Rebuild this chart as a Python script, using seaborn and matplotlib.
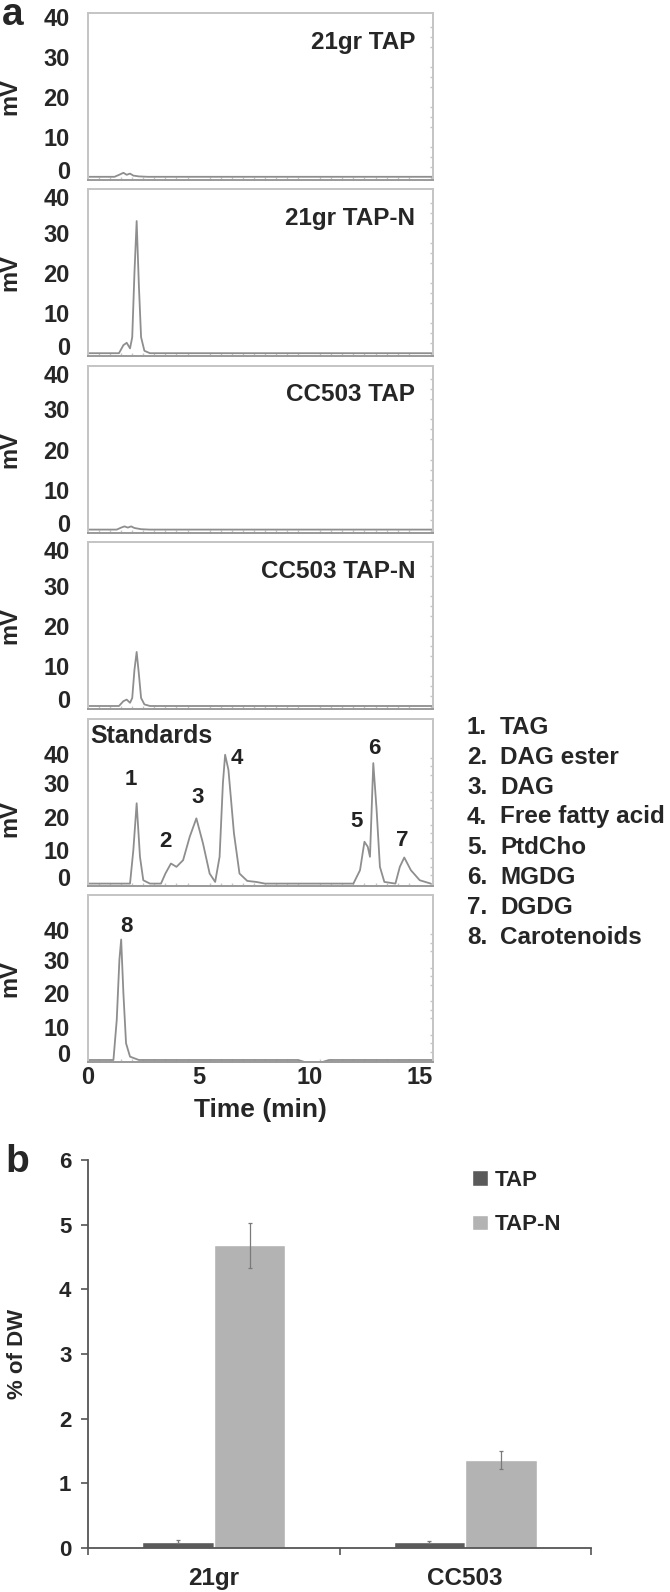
"""
plot.py - HPLC chromatograms (a) and TAG content bar chart (b)
"""

import numpy as np
import pandas as pd
import matplotlib
matplotlib.use("Agg")
import matplotlib.pyplot as plt
import matplotlib.transforms as mtransforms
import seaborn as sns


# ── Data ──────────────────────────────────────────────────────────────────────

# (a) traces: retention time (min) and detector signal (mV)
t_21gr_tap = [0, 1.2, 1.45, 1.6, 1.75, 1.9, 2.05, 2.3, 2.7, 15.6]
mv_21gr_tap = [0, 0, 0.6, 1.0, 0.5, 0.8, 0.3, 0.1, 0, 0]

t_21gr_tapn = [0, 1.4, 1.6, 1.75, 1.9, 2.0, 2.1, 2.2, 2.3, 2.4, 2.55, 2.8, 15.6]
mv_21gr_tapn = [0, 0, 2.0, 2.6, 1.2, 4.0, 20.0, 33.0, 17.0, 4.0, 0.6, 0, 0]

t_cc503_tap = [0, 1.3, 1.5, 1.65, 1.8, 1.95, 2.1, 2.4, 2.8, 15.6]
mv_cc503_tap = [0, 0, 0.5, 0.8, 0.5, 0.8, 0.4, 0.1, 0, 0]

t_cc503_tapn = [0, 1.4, 1.6, 1.75, 1.9, 2.0, 2.1, 2.2, 2.3, 2.4, 2.55, 2.8, 15.6]
mv_cc503_tapn = [0, 0, 1.2, 1.6, 0.8, 2.0, 9.0, 13.5, 8.0, 2.0, 0.4, 0, 0]

t_std = [0, 1.9, 2.05, 2.2, 2.35, 2.5, 2.8, 3.3, 3.5, 3.75, 4.0, 4.3, 4.6,
         4.9, 5.2, 5.5, 5.75, 5.95, 6.1, 6.2, 6.35, 6.6, 6.85, 7.2, 7.6,
         8.0, 12.0, 12.3, 12.5, 12.65, 12.75, 12.9, 13.05, 13.2, 13.4, 13.9,
         14.1, 14.3, 14.6, 15.0, 15.5]
mv_std = [0, 0, 10, 24, 8, 1, 0, 0, 3, 6, 5, 7, 14,
          19.5, 12, 3, 0.5, 8, 30, 38.5, 34, 15, 3, 0.8, 0.5,
          0, 0, 4, 12.5, 11, 8, 36, 22, 5, 0.5, 0,
          5, 7.8, 4, 1, 0]

t_carot = [0, 1.15, 1.3, 1.42, 1.5, 1.6, 1.72, 1.9, 2.3, 9.5, 9.8, 10.6, 10.9, 15.6]
mv_carot = [0, 0, 12, 30, 36, 20, 5, 1, 0, 0, -0.6, -0.6, 0, 0]

panel_names = ["21gr TAP", "21gr TAP-N", "CC503 TAP", "CC503 TAP-N", "Standards", ""]
panel_times = [t_21gr_tap, t_21gr_tapn, t_cc503_tap, t_cc503_tapn, t_std, t_carot]
panel_signals = [mv_21gr_tap, mv_21gr_tapn, mv_cc503_tap, mv_cc503_tapn, mv_std, mv_carot]

# peak numbers (standards panel and carotenoid panel)
std_peak_labels = ["1", "2", "3", "4", "5", "6", "7"]
std_peak_t = [1.95, 3.5, 4.95, 6.75, 12.15, 12.95, 14.2]
std_peak_mv = [31, 12.5, 25.7, 37.3, 18.5, 40.5, 13]
carot_peak_t = [1.75]
carot_peak_mv = [40]

peak_names = ["TAG", "DAG ester", "DAG", "Free fatty acid",
              "PtdCho", "MGDG", "DGDG", "Carotenoids"]

# (b) % of dry weight
strains = ["21gr", "21gr", "CC503", "CC503"]
conditions = ["TAP", "TAP-N", "TAP", "TAP-N"]
pct_dw = [0.10, 4.68, 0.09, 1.36]
pct_err = [0.02, 0.35, 0.02, 0.14]


# ── Style ─────────────────────────────────────────────────────────────────────

sns.set_theme(style="white")
plt.rcParams["font.family"] = ["Liberation Sans", "DejaVu Sans"]
plt.rcParams["font.weight"] = "bold"

FW, FH = 670, 1592
fig = plt.figure(figsize=(FW / 100, FH / 100), dpi=100)


def fig_rect(x0, y0, x1, y1):
    """Pixel box (top-left origin) -> figure rect."""
    return [x0 / FW, 1 - y1 / FH, (x1 - x0) / FW, (y1 - y0) / FH]


frame_col = "#c4c4c4"
trace_col = "#8e8e8e"
up_shift = mtransforms.ScaledTranslation(0, 5 / 72, fig.dpi_scale_trans)
down_shift = mtransforms.ScaledTranslation(0, -3 / 72, fig.dpi_scale_trans)

# ── (a) chromatograms ─────────────────────────────────────────────────────────

axes_a = []
for i in range(6):
    top = 13 + i * 176.4
    ax = fig.add_axes(fig_rect(88, top, 433, top + 167))
    axes_a.append(ax)
    sns.lineplot(x=panel_times[i], y=panel_signals[i], ax=ax, color=trace_col,
                 lw=1.3, estimator=None, sort=False)
    ax.set_xlim(0, 15.6)
    if i < 4:
        ax.set_ylim(-0.8, 40.9)
    else:
        ax.set_ylim(-0.6, 49.3)
    ax.set_yticks([0, 10, 20, 30, 40])
    ax.set_xticks([0, 5, 10, 15])
    ax.set_xticks(np.arange(0, 15.6, 0.5), minor=True)
    ax.set_yticks(np.arange(0, 41, 2.5), minor=True)
    for s in ax.spines.values():
        s.set_color(frame_col)
        s.set_linewidth(1.4)
    ax.spines["bottom"].set_color("#9a9a9a")
    ax.tick_params(which="both", direction="in", length=2, color=frame_col,
                   right=True, bottom=True)
    ax.tick_params(axis="y", which="major", labelsize=17, pad=13, length=0)
    ax.tick_params(axis="x", which="major", labelsize=17, pad=3, length=0)
    # scanned labels sit a little off the grid: 0 slightly up, 40 slightly down
    ylabs = ax.get_yticklabels()
    ylabs[0].set_transform(ylabs[0].get_transform() + up_shift)
    if i > 0:
        ylabs[-1].set_transform(ylabs[-1].get_transform() + down_shift)
    ax.set_ylabel("mV", fontsize=17, fontweight="bold")
    ax.yaxis.set_label_coords(-0.193, 0.4 if i == 4 else 0.5)
    if i < 5:
        ax.set_xticklabels([])
        ax.set_xlabel("")
    if i < 4:
        ax.text(0.948, 0.826, panel_names[i], transform=ax.transAxes,
                ha="right", va="center", fontsize=17.5, fontweight="bold")

axes_a[4].text(0.006, 0.898, panel_names[4], transform=axes_a[4].transAxes,
               ha="left", va="center", fontsize=18, fontweight="bold")
for lab, x, y in zip(std_peak_labels, std_peak_t, std_peak_mv):
    axes_a[4].text(x, y, lab, ha="center", va="center", fontsize=16,
                   fontweight="semibold", color="#222222")
axes_a[5].text(carot_peak_t[0], carot_peak_mv[0], "8", ha="center", va="center",
               fontsize=16, fontweight="semibold", color="#222222")

axes_a[5].set_xlabel("Time (min)", fontsize=19, fontweight="bold", labelpad=6)

# numbered legend of peaks
for k, name in enumerate(peak_names):
    y = 1 - (727 + 30 * k) / FH
    fig.text(467 / FW, y, f"{k + 1}.", ha="left", va="center",
             fontsize=17.5, fontweight="bold")
    fig.text(500 / FW, y, name, ha="left", va="center",
             fontsize=17.5, fontweight="bold")

fig.text(13 / FW, 1 - 15 / FH, "a", ha="center", va="center",
         fontsize=28, fontweight="bold")
fig.text(17 / FW, 1 - 1162 / FH, "b", ha="center", va="center",
         fontsize=28, fontweight="bold")

# ── (b) bar chart ─────────────────────────────────────────────────────────────

df = pd.DataFrame({"strain": strains, "condition": conditions,
                   "pct": pct_dw, "err": pct_err})

axb = fig.add_axes(fig_rect(88, 1160, 591, 1548))
sns.barplot(data=df, x="strain", y="pct", hue="condition",
            palette=["#5a5a5a", "#b3b3b3"], width=0.57, saturation=1,
            errorbar=None, ax=axb)

for cont, cond in zip(axb.containers, ["TAP", "TAP-N"]):
    sub = df[df["condition"] == cond]
    xs = [p.get_x() + p.get_width() / 2 for p in cont]
    axb.errorbar(xs, sub["pct"].to_numpy(), yerr=sub["err"].to_numpy(),
                 fmt="none", ecolor="#7a7a7a", elinewidth=0.9, capsize=1.5,
                 capthick=0.9)

axb.set_xlim(-0.5, 1.5)
axb.set_ylim(0, 6)
axb.set_yticks(range(7))
axb.set_xticks([-0.5, 0.5, 1.5], minor=True)
axb.tick_params(axis="x", which="major", length=0, pad=14, labelsize=17.5)
axb.tick_params(axis="x", which="minor", length=5, width=1.2,
                color="#555555", direction="out", bottom=True)
axb.tick_params(axis="y", length=5, width=1.2, color="#555555",
                direction="out", left=True, labelsize=16, pad=7)
for lab in axb.get_xticklabels() + axb.get_yticklabels():
    lab.set_fontweight("bold")
sns.despine(ax=axb)
for s in ["left", "bottom"]:
    axb.spines[s].set_color("#555555")
    axb.spines[s].set_linewidth(1.3)
axb.set_xlabel("")
axb.set_ylabel("% of DW", fontsize=16, fontweight="bold")
axb.yaxis.set_label_coords(-0.12, 0.5)

handles, labels = axb.get_legend_handles_labels()
axb.get_legend().remove()
axb.legend(handles, labels, bbox_to_anchor=(472 / FW, 1 - 1170 / FH),
           bbox_transform=fig.transFigure, loc="upper left", frameon=False,
           borderaxespad=0, borderpad=0, handlelength=0.72, handleheight=0.72,
           handletextpad=0.3, labelspacing=1.05,
           prop={"size": 16, "weight": "bold"})

fig.savefig("out.png", dpi=100)
